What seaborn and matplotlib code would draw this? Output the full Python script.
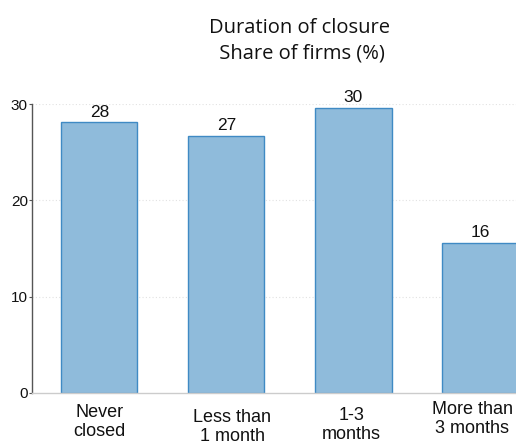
import matplotlib
matplotlib.use("Agg")
import matplotlib.pyplot as plt
import matplotlib.transforms as mtransforms
import pandas as pd
import seaborn as sns

# data
categories = ["Never\nclosed", "Less than\n1 month", "1-3\nmonths", "More than\n3 months"]
shares = [28.1, 26.7, 29.6, 15.6]
value_labels = ["28", "27", "30", "16"]
yticks = [0, 10, 20, 30]

# category label placement (px): drop below the axis, sideways nudge
label_drop = [11, 16, 14, 8]
label_shift = [0, 6, -2, -8]

df = pd.DataFrame({"category": categories, "share": shares})

sns.set_theme(style="white")
plt.rcParams["font.family"] = ["Liberation Sans", "DejaVu Sans"]

fig = plt.figure(figsize=(5.16, 4.43), dpi=100)
ax = fig.add_axes([32 / 516, 1 - 393 / 443, 1 - 32 / 516, (393 - 104) / 443])

sns.barplot(data=df, x="category", y="share", ax=ax, width=0.6,
            color="#8fbbdb", edgecolor="#3f8ac4", linewidth=1.0, saturation=1)

ax.set_xlim(-0.53, 3.28)
ax.set_ylim(0, 30)
ax.set_yticks(yticks)
ax.set_yticklabels([str(t) for t in yticks], fontsize=11, color="#111111")
ax.tick_params(axis="y", length=2, width=0.8, pad=1, color="#555555", direction="out", left=True)
ax.set_xticks([])
ax.set_xlabel("")
ax.set_ylabel("")

for t in yticks[1:]:
    ax.axhline(t, color="#e2e2e2", linestyle=(0, (1, 2)), linewidth=0.8, zorder=0)

for side in ["top", "right"]:
    ax.spines[side].set_visible(False)
ax.spines["left"].set_color("#555555")
ax.spines["left"].set_linewidth(1.0)
ax.spines["bottom"].set_color("#cccccc")
ax.spines["bottom"].set_linewidth(1.0)

ax.bar_label(ax.containers[0], labels=value_labels, padding=2, fontsize=12.5, color="#111111")

for i, (cat, drop, dx) in enumerate(zip(categories, label_drop, label_shift)):
    off = mtransforms.offset_copy(ax.get_xaxis_transform(), fig=fig,
                                  x=dx * 0.72, y=-drop * 0.72, units="points")
    ax.text(i, 0, cat, transform=off, ha="center", va="top", fontsize=13,
            color="#111111", linespacing=1.15, clip_on=False)

fig.text(0.58, 1 - 41 / 443, "Duration of closure\n Share of firms (%)", ha="center", va="center",
         fontsize=14.5, family=["Open Sans", "DejaVu Sans"], color="#111111", linespacing=1.35)

fig.savefig("out.png", dpi=100)
